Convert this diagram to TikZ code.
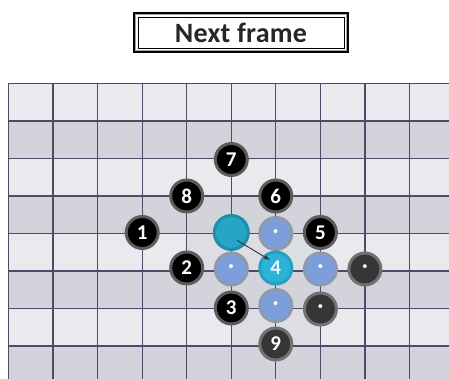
\documentclass[tikz,border=0pt]{standalone}
\usepackage{fontspec}
\setmainfont{Carlito}
\usetikzlibrary{calc}
\definecolor{lightcell}{HTML}{E9E9EE}
\definecolor{darkcell}{HTML}{D3D3DB}
\definecolor{tintcell}{HTML}{DDDDE4}
\definecolor{gridcol}{HTML}{4C4C68}
\definecolor{haloblack}{HTML}{5C5C5C}
\definecolor{darkfill}{HTML}{363636}
\definecolor{darkhalo}{HTML}{727272}
\definecolor{bluefill}{HTML}{7C9FDB}
\definecolor{bluehalo}{HTML}{8D99AD}
\definecolor{cyanfill}{HTML}{28A5C6}
\definecolor{cyanhalo}{HTML}{1F8EA9}
\definecolor{cyanfillb}{HTML}{2CB3D7}
\definecolor{cyanhalob}{HTML}{27A0C0}
\begin{document}
\begin{tikzpicture}[x=1pt,y=-1pt,
  gridline/.style={draw=gridcol,line width=1.2pt},
  stonebase/.style={circle,inner sep=0pt,minimum size=32pt,line width=3pt,
    font=\bfseries\fontsize{21}{21}\selectfont},
  blackstone/.style={stonebase,fill=black,draw=haloblack,text=white},
  darkstone/.style={stonebase,fill=darkfill,draw=darkhalo,text=white},
  bluestone/.style={stonebase,fill=bluefill,draw=bluehalo,text=white},
  cyanstone/.style={stonebase,minimum size=34pt,fill=cyanfill,draw=cyanhalo},
  cyanstoneb/.style={stonebase,fill=cyanfillb,draw=cyanhalob,text=cyan!8},
  titlebox/.style={draw=black,line width=0.8pt,fill=white,minimum width=206pt,
    minimum height=31pt,inner sep=0pt,text=black!85,
    font=\bfseries\fontsize{28}{28}\selectfont\addfontfeature{LetterSpace=1}},
  arrowline/.style={draw=black!80,line width=0.9pt,-latex}]
\useasboundingbox (0,0) rectangle (449,379);
\fill[white] (0,0) rectangle (449,379);
% board cells
\fill[lightcell] (7.5,83.5) rectangle (449,379);
\foreach \j in {1,3,5,7}
  \fill[darkcell] (7.5,{83.5+37.5*\j}) rectangle (449,{83.5+37.5*(\j+1)});
\fill[tintcell] (186.7,233.5) rectangle (320.4,271);
\fill[tintcell] (231.3,308.5) rectangle (320.4,346);
% grid lines
\foreach \k in {0,...,9}
  \draw[gridline] ({8.5+44.55*\k},83.5) -- ({8.5+44.55*\k},379);
\foreach \j in {0,...,7}
  \draw[gridline] (7.5,{83.5+37.5*\j}) -- (449,{83.5+37.5*\j});
% title
\node[titlebox] (title) at (241,32.5) {Next frame};
\draw[gray!70,line width=1.6pt] ($(title.north west)+(-2,-2)$) rectangle ($(title.south east)+(2,2)$);
\draw[black,line width=2.2pt] ($(title.north west)+(-3.8,-3.8)$) rectangle ($(title.south east)+(3.8,3.8)$);
% stones
\node[blackstone] (s7) at (231.3,159.5) {7};
\node[blackstone] (s8) at (186.7,196) {8};
\node[blackstone] (s6) at (275.8,196) {6};
\node[blackstone] (s1) at (142.2,232.5) {1};
\node[cyanstone] (c) at (231.3,232.5) {};
\node[bluestone] (b1) at (275.8,233.5) {·};
\node[blackstone] (s5) at (320.4,232.5) {5};
\node[blackstone] (s2) at (186.7,268) {2};
\node[bluestone] (b2) at (231.3,269) {·};
\node[cyanstoneb] (s4) at (275.8,268) {4};
\node[bluestone] (b3) at (320.4,269) {·};
\node[darkstone] (g1) at (364.9,269) {·};
\node[blackstone] (s3) at (231.3,308) {3};
\node[bluestone] (b4) at (275.8,305.5) {·};
\node[darkstone] (g2) at (320.4,309) {·};
\node[darkstone] (s9) at (275.8,344) {9};
% arrow
\coordinate (as) at ($(c)+(6,8)$);
\coordinate (ae) at ($(s4)+(-6,-8)$);
\draw[arrowline] (as) -- (ae);
\end{tikzpicture}
\end{document}
